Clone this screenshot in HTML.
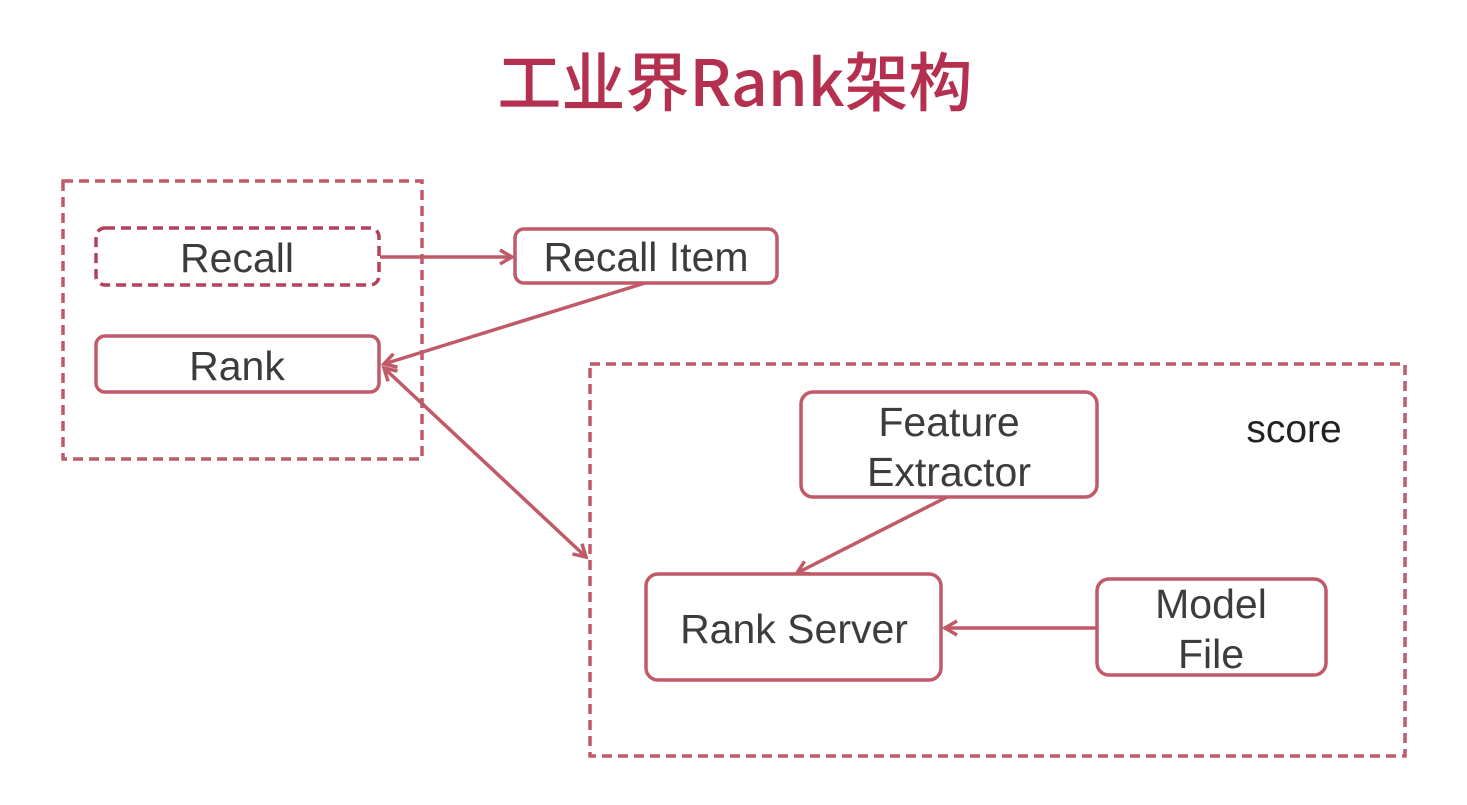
<!DOCTYPE html>
<html><head><meta charset="utf-8"><style>
body{margin:0;background:#fff;width:1467px;height:800px;overflow:hidden}
svg text{font-family:"Liberation Sans","Noto Sans CJK SC",sans-serif}
</style></head><body>
<svg width="1467" height="800" viewBox="0 0 1467 800">
<defs>
<marker id="a" markerWidth="18" markerHeight="18" refX="14" refY="9" orient="auto" markerUnits="userSpaceOnUse">
<path d="M2,2 L14,9 L2,16" fill="none" stroke="#c05a68" stroke-width="3.5"/>
</marker>
<marker id="s" markerWidth="18" markerHeight="18" refX="4" refY="9" orient="auto" markerUnits="userSpaceOnUse">
<path d="M16,2 L4,9 L16,16" fill="none" stroke="#c05a68" stroke-width="3.5"/>
</marker>
</defs>
<text x="735" y="106" text-anchor="middle" font-size="64" fill="#b5304f" style="font-family:'Noto Sans CJK SC',sans-serif" font-weight="500">工业界Rank架构</text>
<g fill="none" stroke="#c05a68" stroke-width="3.5">
<rect x="63" y="181" width="359" height="278" stroke-dasharray="10,6"/>
<rect x="96" y="228" width="283" height="57" rx="9" stroke-dasharray="10,6" stroke="#b5405a"/>
<rect x="96" y="336" width="283" height="56" rx="9"/>
<rect x="515" y="229" width="262" height="54" rx="9"/>
<rect x="590" y="364" width="815" height="392" stroke-dasharray="10,6"/>
<rect x="801" y="392" width="296" height="105" rx="12"/>
<rect x="646" y="574" width="295" height="106" rx="12"/>
<rect x="1097" y="579" width="229" height="96" rx="12"/>
<line x1="380" y1="257" x2="512" y2="257" marker-end="url(#a)"/>
<line x1="645" y1="283" x2="384" y2="364" marker-end="url(#a)"/>
<line x1="384" y1="368" x2="586" y2="557" marker-start="url(#s)" marker-end="url(#a)"/>
<line x1="947" y1="497" x2="797" y2="573" marker-end="url(#a)"/>
<line x1="1096" y1="628" x2="945" y2="628" marker-end="url(#a)"/>
</g>
<g font-size="41" fill="#3c3c3c" text-anchor="middle">
<text x="237" y="272">Recall</text>
<text x="237" y="380">Rank</text>
<text x="646" y="271">Recall Item</text>
<text x="949" y="436">Feature</text>
<text x="949" y="486">Extractor</text>
<text x="794" y="643">Rank Server</text>
<text x="1211" y="618">Model</text>
<text x="1211" y="668">File</text>
<text x="1294" y="442" fill="#222" font-size="39">score</text>
</g>
</svg>
</body></html>
